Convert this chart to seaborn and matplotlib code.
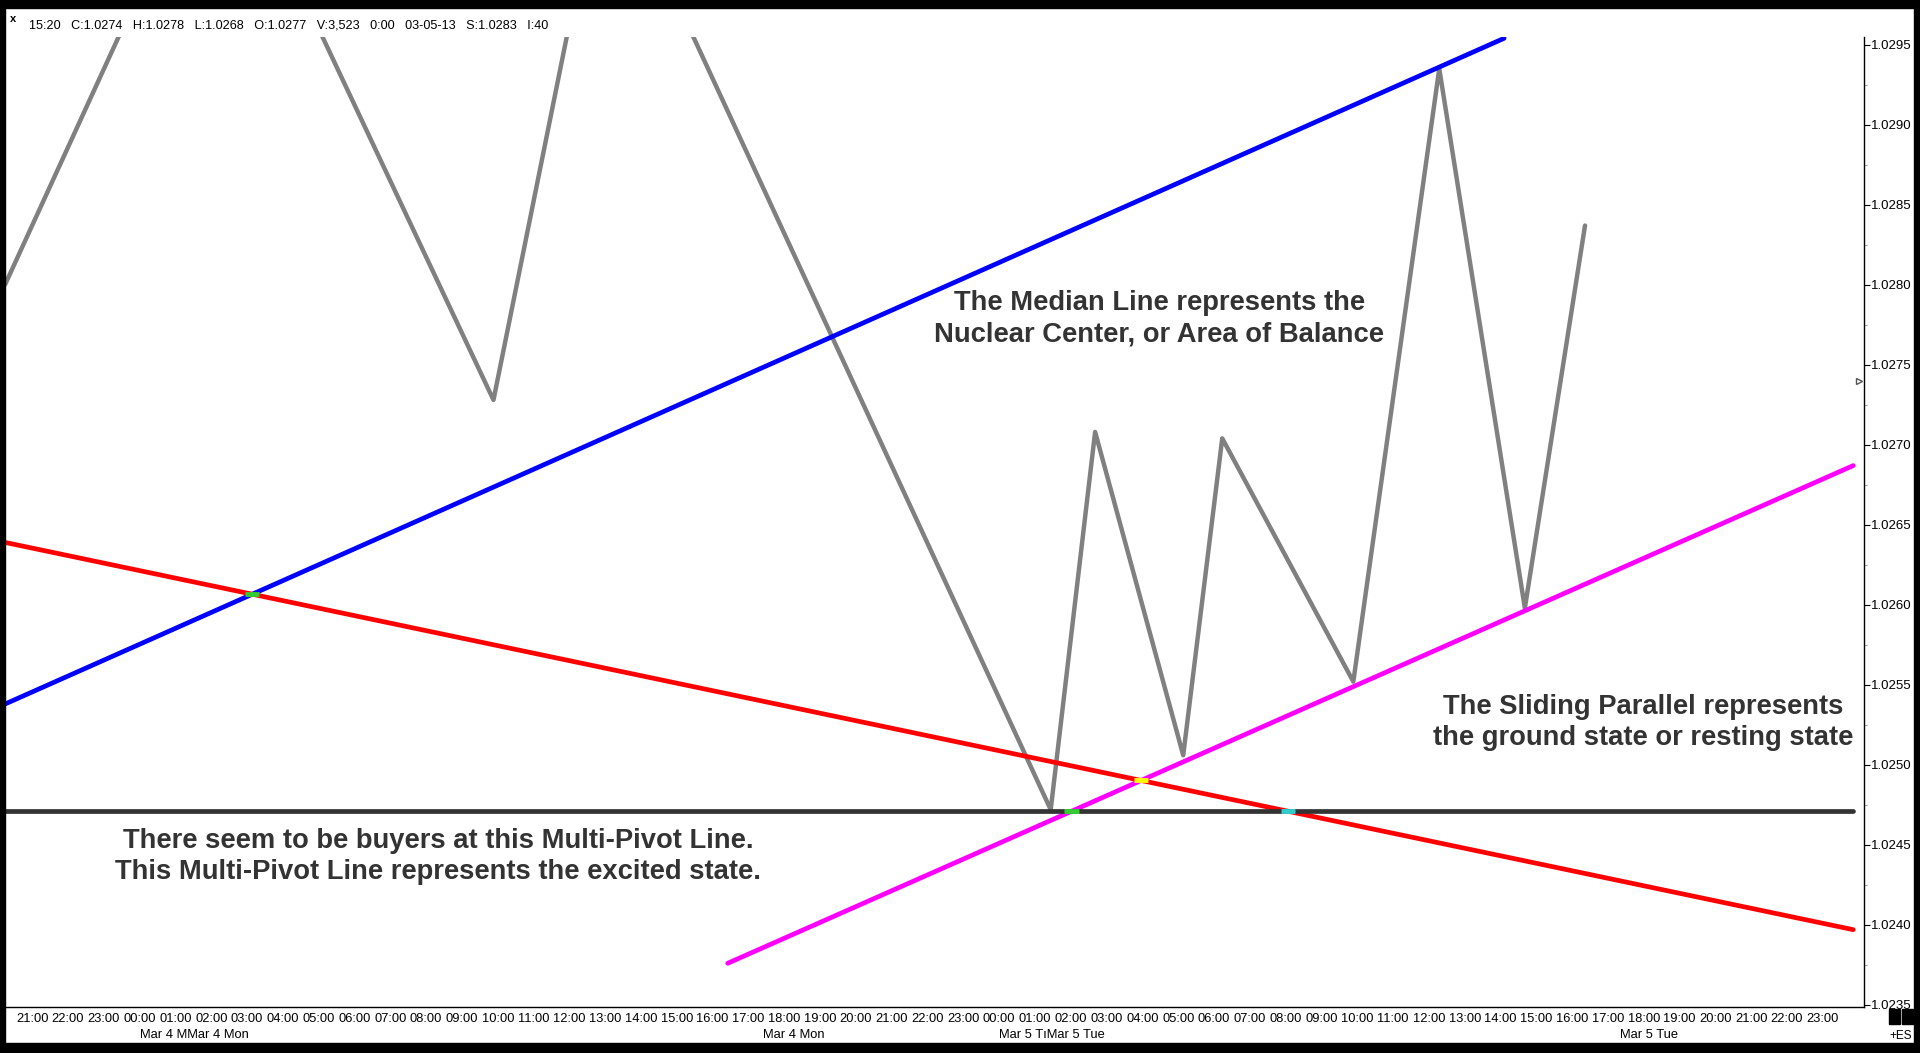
import numpy as np
import pandas as pd
import matplotlib
matplotlib.use("Agg")
import matplotlib.pyplot as plt
import matplotlib.transforms as mtransforms
from matplotlib.patches import Rectangle
import seaborn as sns

# Data: hours counted from Mar 4 00:00, prices
zigzag_hours = [-3.76, 2.22, 9.88, 13.0, 25.44, 26.68, 29.14, 30.23, 33.89, 36.29, 38.68, 40.36]
zigzag_price = [1.0280, 1.03092, 1.02728, 1.03074, 1.02472, 1.02708, 1.02506, 1.02704,
                1.02552, 1.02935, 1.02598, 1.02837]

median_hours = [-3.76, 38.1]
median_price = [1.02538, 1.02954]
parallel_hours = [16.42, 47.85]
parallel_price = [1.02376, 1.02687]
red_hours = [-3.76, 47.85]
red_price = [1.02639, 1.02397]
pivot_hours = [-3.76, 47.85]
pivot_price = [1.02471, 1.02471]

tick_hours = list(range(-3, 48))
tick_labels = [f"{h % 24:02d}:00" for h in tick_hours]
date_hours = [0.0, 17.4, 24.0, 41.35]
date_labels = ["Mar 4 MMar 4 Mon", "Mar 4 Mon", "Mar 5 T\u0131Mar 5 Tue", "Mar 5 Tue"]
price_ticks = [1.0235, 1.0240, 1.0245, 1.0250, 1.0255, 1.0260, 1.0265,
               1.0270, 1.0275, 1.0280, 1.0285, 1.0290, 1.0295]

header_items = ["15:20", "C:1.0274", "H:1.0278", "L:1.0268", "O:1.0277",
                "V:3,523", "0:00", "03-05-13", "S:1.0283", "I:40"]
last_close = 1.0274

median_text = "The Median Line represents the\nNuclear Center, or Area of Balance"
parallel_text = "The Sliding Parallel represents\nthe ground state or resting state"
pivot_text = "There seem to be buyers at this Multi-Pivot Line.\nThis Multi-Pivot Line represents the excited state."

sns.set_style("white")
plt.rcParams['font.family'] = ['Liberation Sans', 'DejaVu Sans']

W, H = 1920, 1053
fig = plt.figure(figsize=(W / 100, H / 100), dpi=100)
fig.patch.set_facecolor("white")
ax = fig.add_axes([5 / W, (H - 1006.5) / H, (1864 - 5) / W, (1006.5 - 36.7) / H])

# zigzag
zz = pd.DataFrame({"hour": zigzag_hours, "price": zigzag_price})
sns.lineplot(data=zz, x="hour", y="price", color="#808080", linewidth=3.2,
             estimator=None, sort=False, ax=ax, zorder=3)

lines = [
    (median_hours, median_price, "#0000ff"),
    (red_hours, red_price, "#ff0000"),
    (parallel_hours, parallel_price, "#ff00ff"),
    (pivot_hours, pivot_price, "#333333"),
]
for hx, py, col in lines:
    df = pd.DataFrame({"hour": hx, "price": py})
    sns.lineplot(data=df, x="hour", y="price", color=col, linewidth=3.4,
                 estimator=None, sort=False, ax=ax, zorder=4)


def cross(a, b):
    (x1, x2), (y1, y2) = a
    (x3, x4), (y3, y4) = b
    s1 = (y2 - y1) / (x2 - x1)
    s2 = (y4 - y3) / (x4 - x3)
    x = (y3 - y1 + s1 * x1 - s2 * x3) / (s1 - s2)
    return x, y1 + s1 * (x - x1)


dots = [
    ((median_hours, median_price), (red_hours, red_price), "#33cc33"),
    ((pivot_hours, pivot_price), (parallel_hours, parallel_price), "#33cc33"),
    ((red_hours, red_price), (parallel_hours, parallel_price), "#ffff00"),
    ((red_hours, red_price), (pivot_hours, pivot_price), "#33cccc"),
]
for a, b, col in dots:
    x, y = cross(a, b)
    ax.plot([x - 0.2, x + 0.2], [y, y], color=col, lw=3.5, zorder=5,
            solid_capstyle="butt")

ax.set_xlim(-3.76, 48.15)
ax.set_ylim(1.02349, 1.02955)
ax.set_xlabel("")
ax.set_ylabel("")

# axes styling
for side in ["left", "top"]:
    ax.spines[side].set_visible(False)
for side in ["right", "bottom"]:
    ax.spines[side].set_color("black")
    ax.spines[side].set_linewidth(1.0)
ax.yaxis.tick_right()
ax.set_yticks(price_ticks)
ax.set_yticklabels([f"{v:.4f}" for v in price_ticks])
ax.set_yticks([v + 0.00025 for v in price_ticks[:-1]], minor=True)
ax.tick_params(axis="y", which="major", direction="out", length=4, width=0.8,
               pad=1, labelsize=9.5, colors="black")
ax.tick_params(axis="y", which="minor", direction="out", length=2, width=0.6,
               colors="#888888")
ax.set_xticks(tick_hours)
ax.set_xticklabels(tick_labels)
ax.tick_params(axis="x", which="major", direction="out", length=3, width=0.7,
               pad=1.5, labelsize=9.3, colors="black")
ax.grid(False)

trans = mtransforms.blended_transform_factory(ax.transData, ax.transAxes)
for h, s in zip(date_hours, date_labels):
    ax.text(h, -0.0235, s, transform=trans, ha="left", va="top", fontsize=9.3,
            color="black", clip_on=False)

# last price marker on the scale
ytrans = mtransforms.blended_transform_factory(ax.transAxes, ax.transData)
ax.plot([0.9955, 0.9985], [last_close, last_close], color="#555555", lw=0.8,
        transform=ytrans, clip_on=False)
ax.plot([0.9972], [last_close], marker=">", ms=4, mfc="white", mec="#555555",
        transform=ytrans, clip_on=False)

# annotations
bold_font = ['Liberation Sans', 'DejaVu Sans']
for txt, px, py in [(median_text, 0.621, 0.709), (parallel_text, 0.881, 0.293),
                    (pivot_text, 0.233, 0.155)]:
    ax.text(px, py, txt, transform=ax.transAxes, ha="center", va="center",
            fontsize=19.7, fontweight="bold", color="#333333", family=bold_font,
            linespacing=1.25)

# header line
fig.text(29 / W, 1 - 25 / H, "   ".join(header_items), ha="left", va="center",
         fontsize=9.1, color="black")
fig.text(10 / W, 1 - 19 / H, "x", ha="left", va="center", fontsize=8,
         fontweight="bold", color="black")

# frame and corner boxes
for rect in [(0, 1 - 8 / H, 1, 8 / H), (0, 0, 1, 10 / H),
             (0, 0, 5 / W, 1), (1 - 6 / W, 0, 6 / W, 1)]:
    fig.add_artist(Rectangle(rect[:2], rect[2], rect[3], transform=fig.transFigure,
                             color="black", zorder=10))
for x0 in [1889, 1902]:
    fig.add_artist(Rectangle((x0 / W, 1 - 1024 / H), 11 / W, 15 / H,
                             transform=fig.transFigure, color="black", zorder=10))
fig.text(1912 / W, 1 - 1036 / H, "+ES", ha="right", va="center", fontsize=8.5,
         color="black")

fig.savefig("out.png", dpi=100, facecolor="white")
